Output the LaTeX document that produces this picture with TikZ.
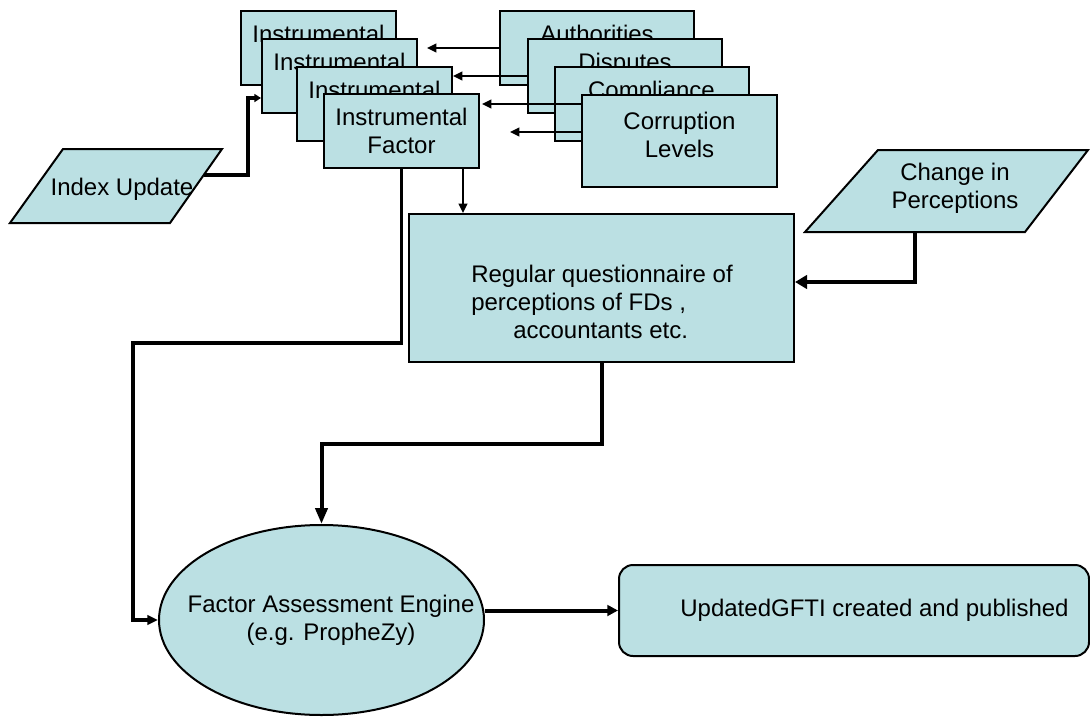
\documentclass[tikz,border=0pt]{standalone}
\usepackage{fontspec}
\setmainfont{Liberation Sans}
\usetikzlibrary{arrows.meta,shapes.geometric}
\definecolor{boxfill}{RGB}{187,224,227}
\begin{document}
\begin{tikzpicture}[x=0.75pt,y=-0.75pt,
  every node/.style={font=\fontsize{18pt}{21pt}\selectfont},
  box/.style={draw=black,fill=boxfill,line width=1.5pt,inner sep=0pt,align=center},
  ibox/.style={box,minimum width=116.25pt,minimum height=55.5pt},
  fbox/.style={box,minimum width=145.5pt,minimum height=55.5pt},
  para/.style={draw=black,fill=boxfill,line width=1.5pt,line join=miter},
  txt/.style={inner sep=0pt},
  thinarrow/.style={line width=1.5pt,-{Triangle[length=7pt,width=6.5pt]}},
  midarrow/.style={line width=2.5pt,-{Triangle[length=8pt,width=7pt]}},
  heavyarrow/.style={line width=3pt,-{Triangle[length=9pt,width=10pt]}}
]
\path[use as bounding box] (0,0) rectangle (1090,718);

% left stack
\node[ibox] (box1) at (318.5,48) {Instrumental\\Factor};
\node[ibox] (box2) at (339.5,75.5) {Instrumental\\Factor};
\node[ibox] (box3) at (374.5,103.5) {Instrumental\\Factor};
\node[ibox] (box4) at (401.5,131) {Instrumental\\Factor};

% right stack
\node[fbox] (auth) at (597,48) {Authorities\\\phantom{A}};
\node[fbox] (disp) at (625,76) {Disputes\\\phantom{A}};
\node[fbox] (comp) at (651.5,103.5) {Compliance\\\phantom{A}};
\node[box,minimum width=146.25pt,minimum height=69pt] (corr) at (679.5,141) {Corruption\\Levels\\[-12pt]\phantom{A}};

% parallelograms
\draw[para] (63,149) -- (222,149) -- (170,223) -- (10,223) -- cycle;
\node[txt] (idx) at (122,189) {Index Update};
\coordinate (ip) at (204,175);

\draw[para] (878,150) -- (1088,150) -- (1025,232) -- (805,232) -- cycle;
\node[txt,align=center] (chg) at (955,188) {Change in\\Perceptions};
\coordinate (cp) at (915,232);

% questionnaire
\node[box,minimum width=288.75pt,minimum height=111pt] (quest) at (601.5,288) {};
\node[txt,align=left] (qtext) at (602,302) {Regular questionnaire of\\perceptions of FDs ,\\\hspace*{31.5pt}accountants etc.};

% engine
\node[draw=black,fill=boxfill,line width=1.5pt,ellipse,inner sep=0pt,minimum width=243.75pt,minimum height=142.5pt] (eng) at (321.5,620) {};
\node[txt,align=center] (engt) at (331,620) {Factor Assessment Engine\\(e.g. PropheZy)};

% output
\node[box,rounded corners=10.5pt,minimum width=352.5pt,minimum height=68.25pt] (out) at (854,610.5) {\hspace*{30.75pt}UpdatedGFTI created and published};

% connectors between stacks
\coordinate (t1) at (427,48);
\coordinate (t2) at (453,76);
\coordinate (t3) at (482,104);
\coordinate (t4) at (510,132);
\draw[thinarrow] (auth.west) -- (t1);
\draw[thinarrow] (disp.west) -- (t2);
\draw[thinarrow] (corr.west |- t3) -- (t3);
\draw[thinarrow] (corr.west |- t4) -- (t4);

% index update -> box2
\coordinate (c3) at (248,98);
\draw[line width=2.5pt,-{Triangle[length=5pt,width=6pt]}] (ip) -| (c3) -- (c3 -| box2.west);

% box4 -> questionnaire
\coordinate (t5) at ([xshift=46.125pt]box4.south);
\draw[thinarrow] (t5) -- (t5 |- quest.north);

% box4 -> engine
\coordinate (c1) at (133,343);
\draw[midarrow] (box4.south) |- (c1) |- (eng.west);

% questionnaire -> engine
\coordinate (c2) at (321.5,444);
\draw[line width=3pt,-{Triangle[length=12pt,width=9pt]}] (quest.south) |- (c2) -- (eng.north);

% change -> questionnaire
\draw[heavyarrow] (cp) |- ([yshift=4.5pt]quest.east);

% engine -> output
\draw[line width=3pt,-{Triangle[length=8pt,width=8pt]}] (out.west -| eng.east) -- (out.west);
\end{tikzpicture}
\end{document}
